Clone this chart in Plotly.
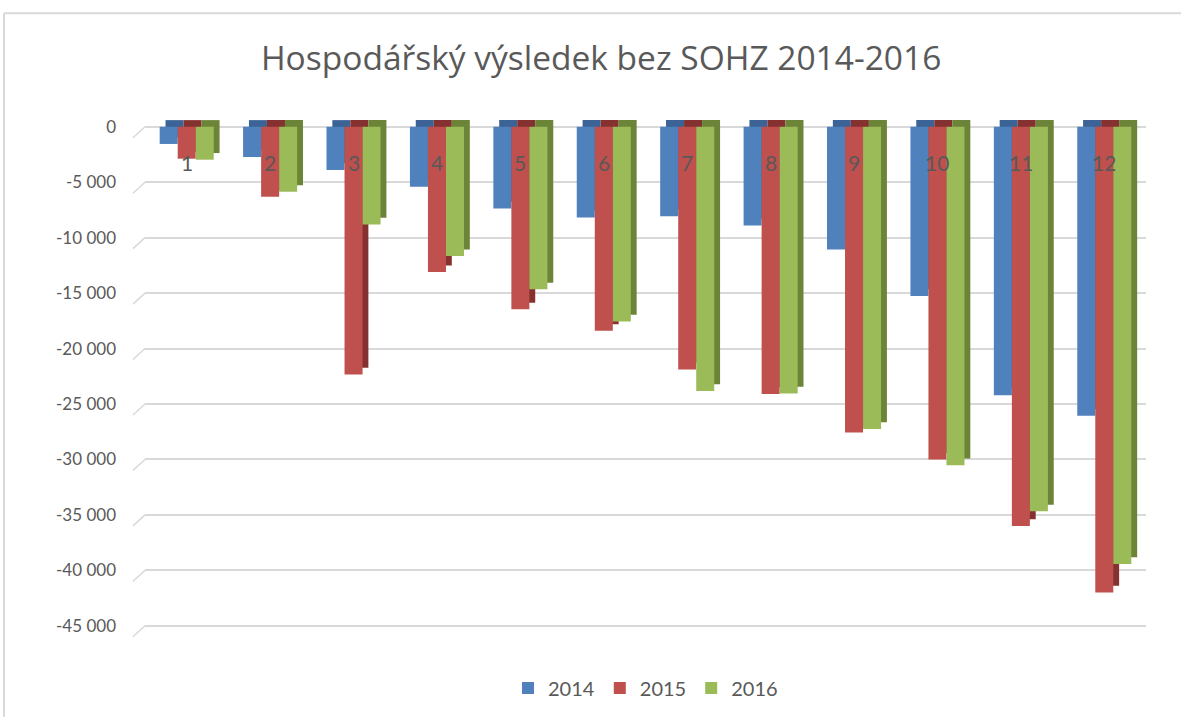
import plotly.graph_objects as go

categories = [1, 2, 3, 4, 5, 6, 7, 8, 9, 10, 11, 12]
v2014 = [-1550, -2730, -3900, -5400, -7370, -8180, -8060, -8900, -11060, -15260, -24220, -26050]
v2015 = [-2880, -6320, -22330, -13100, -16460, -18400, -21880, -24100, -27580, -30010, -36000, -42000]
v2016 = [-2970, -5870, -8810, -11660, -14660, -17560, -23830, -24050, -27250, -30520, -34680, -39420]
series_names = ["2014", "2015", "2016"]
tick_vals = [0, -5000, -10000, -15000, -20000, -25000, -30000, -35000, -40000, -45000]
tick_text = ["0", "-5 000", "-10 000", "-15 000", "-20 000", "-25 000", "-30 000", "-35 000", "-40 000", "-45 000"]
title_text = "Hospodářský výsledek bez SOHZ 2014-2016"

front_colors = ["#4f81bd", "#c0504d", "#9bbb59"]
side_colors = ["#3b6396", "#85312f", "#6b8438"]

W, H = 1181, 718
ml, mr, mt, mb = 145, 35, 119, 89
y_range = [-45200, 700]
bar_w = 0.216
offsets = [-0.324, -0.108, 0.108]
dx = 0.07
dy = 600

fig = go.Figure()
all_vals = [v2014, v2015, v2016]

# depth (side/top faces)
for i, vals in enumerate(all_vals):
    fig.add_trace(go.Bar(
        x=categories, y=vals, base=[dy] * len(vals),
        width=bar_w, offset=offsets[i] + dx,
        marker=dict(color=side_colors[i], line=dict(width=0)),
        showlegend=False, hoverinfo="skip"))
# front faces
for i, vals in enumerate(all_vals):
    fig.add_trace(go.Bar(
        x=categories, y=vals, name=series_names[i],
        width=bar_w, offset=offsets[i],
        marker=dict(color=front_colors[i], line=dict(width=0))))

for c in categories:
    fig.add_annotation(x=c, y=0, xref="x", yref="y", text=str(c), showarrow=False,
                       yshift=-36, yanchor="middle",
                       font=dict(family="Lato, sans-serif", size=21, color="#595959"))

plot_w = W - ml - mr
plot_h = H - mt - mb


def to_paper_y(v):
    return (v - y_range[0]) / (y_range[1] - y_range[0])


# small perspective stubs at the left end of gridlines
for v in tick_vals:
    fig.add_shape(type="line", xref="paper", yref="paper",
                  x0=-12 / plot_w, x1=0, y0=to_paper_y(v) - 11 / plot_h, y1=to_paper_y(v),
                  line=dict(color="#d9d9d9", width=1.5))

# outer chart border (top and left edges)
fig.add_shape(type="line", xref="paper", yref="paper",
              x0=(4 - ml) / plot_w, x1=(W - ml) / plot_w,
              y0=(H - mb - 13) / plot_h, y1=(H - mb - 13) / plot_h,
              line=dict(color="#d9d9d9", width=2))
fig.add_shape(type="line", xref="paper", yref="paper",
              x0=(4 - ml) / plot_w, x1=(4 - ml) / plot_w,
              y0=(H - mb - 13) / plot_h, y1=(H - mb - H) / plot_h,
              line=dict(color="#d9d9d9", width=2))

fig.update_layout(
    width=W, height=H,
    margin=dict(l=ml, r=mr, t=mt, b=mb),
    barmode="overlay",
    paper_bgcolor="white", plot_bgcolor="white",
    title=dict(text=title_text, x=0.509, xanchor="center", y=1 - 58 / H, yanchor="middle",
               font=dict(family="Open Sans, sans-serif", size=33.5, color="#595959")),
    xaxis=dict(range=[0.5, 12.5], showticklabels=False, showgrid=False,
               zeroline=False, showline=False, ticks=""),
    yaxis=dict(range=y_range, tickvals=tick_vals, ticktext=tick_text,
               showgrid=True, gridcolor="#d9d9d9", gridwidth=1.5,
               zeroline=False, showline=False, ticks="", ticklabelstandoff=28,
               tickfont=dict(family="Lato, sans-serif", size=17, color="#595959")),
    legend=dict(orientation="h", x=0.5, xanchor="center", y=(H - mb - 688) / plot_h,
                yanchor="middle", font=dict(family="Lato, sans-serif", size=20, color="#595959"),
                itemwidth=30, traceorder="normal"),
    showlegend=True,
)

fig.write_html("out.html", post_script="document.body.style.margin='0';",
               config={"displayModeBar": False})
